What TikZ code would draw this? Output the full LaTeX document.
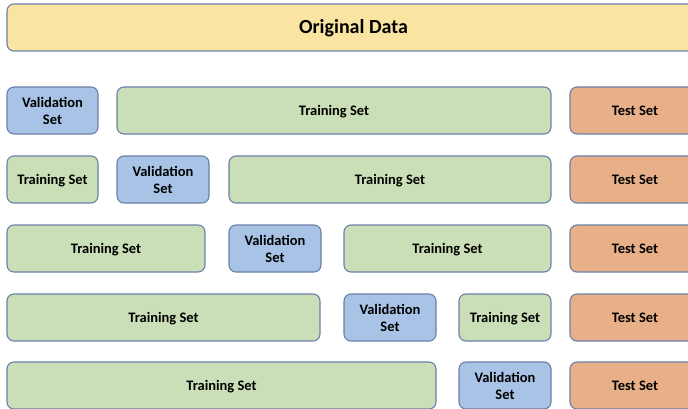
\documentclass[tikz,border=0pt]{standalone}
\usepackage{fontspec}
\setmainfont{Carlito}
\definecolor{edgecol}{HTML}{6B80A8}
\definecolor{datafill}{HTML}{F9E4A1}
\definecolor{trainfill}{HTML}{CADFB8}
\definecolor{valfill}{HTML}{A8C3E5}
\definecolor{testfill}{HTML}{E8B089}
\begin{document}
\begin{tikzpicture}[x=1pt,y=-1pt,
  part/.style={draw=edgecol, line width=1.1pt, rounded corners=7pt,
    inner sep=0pt, align=center,
    font=\bfseries\fontsize{14.5}{17}\selectfont},
  % single-line labels: centre the capitals in the box
  oneline/.style={text height=9.3pt, text depth=0pt},
  train/.style={part, oneline, fill=trainfill},
  valid/.style={part, fill=valfill},
  test/.style={part, oneline, fill=testfill},
  whole/.style={part, fill=datafill, text height=12.9pt, text depth=0pt,
    font=\bfseries\fontsize{20}{24}\selectfont}]
% #1 name, #2 style, #3 left x, #4 right x, #5 top y, #6 label
\newcommand\foldbox[6]{%
  \node[#2, minimum width={#4pt-#3pt}, minimum height=47pt]
    (#1) at ({(#3+#4)/2},{#5+23.5}) {#6};}
\useasboundingbox (0,0) rectangle (688,409);
\clip (0,0) rectangle (688,409);
\foldbox{data}{whole}{7}{700}{4}{Original Data}
% fold 1
\foldbox{va}{valid}{7}{98}{87}{Validation\\Set}
\foldbox{ta}{train}{117}{551}{87}{Training Set}
\foldbox{sa}{test}{570}{700}{87}{Test Set}
% fold 2
\foldbox{tb1}{train}{7}{98}{156}{Training Set}
\foldbox{vb}{valid}{117}{209}{156}{Validation\\Set}
\foldbox{tb2}{train}{229}{551}{156}{Training Set}
\foldbox{sb}{test}{570}{700}{156}{Test Set}
% fold 3
\foldbox{tc1}{train}{7}{205}{225}{Training Set}
\foldbox{vc}{valid}{229}{321}{225}{Validation\\Set}
\foldbox{tc2}{train}{344}{551}{225}{Training Set}
\foldbox{sc}{test}{570}{700}{225}{Test Set}
% fold 4
\foldbox{td1}{train}{7}{320}{294}{Training Set}
\foldbox{vd}{valid}{344}{436}{294}{Validation\\Set}
\foldbox{td2}{train}{459}{551}{294}{Training Set}
\foldbox{sd}{test}{570}{700}{294}{Test Set}
% fold 5
\foldbox{te}{train}{7}{436}{362}{Training Set}
\foldbox{ve}{valid}{459}{551}{362}{Validation\\Set}
\foldbox{se}{test}{570}{700}{362}{Test Set}
\end{tikzpicture}
\end{document}
